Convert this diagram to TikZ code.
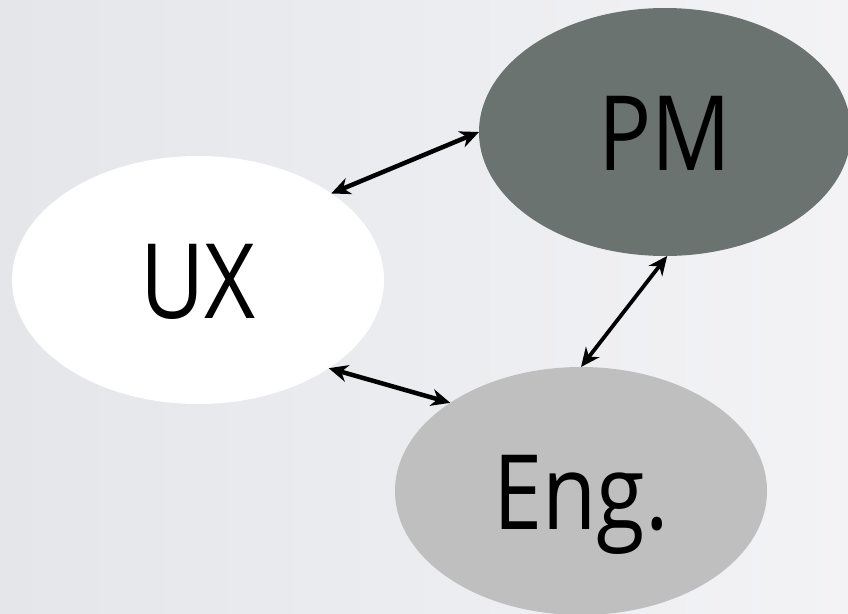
\documentclass[tikz,border=0pt]{standalone}
\usepackage{fontspec}
\setmainfont{Open Sans}[FakeStretch=0.85]
\usepackage{xcolor}
\usepackage{tikz}
\usetikzlibrary{arrows.meta,shapes.geometric}
\definecolor{bgleft}{RGB}{228,230,233}
\definecolor{bgright}{RGB}{243,243,246}
\definecolor{pmgray}{RGB}{107,115,112}
\definecolor{enggray}{RGB}{191,191,191}

\begin{document}
\begin{tikzpicture}[
        x=1pt, y=-1pt,
        role/.style={ellipse, draw=none, fill=#1, outer sep=0pt, inner sep=0pt,
            minimum width=372pt, minimum height=248pt,
            text height=76pt, text depth=0pt, font=\fontsize{104}{104}\selectfont},
        link/.style={{Stealth[length=19pt,width=17pt,inset=6pt]}-{Stealth[length=19pt,width=17pt,inset=6pt]},
            line width=#1, line cap=butt}
    ]
        \useasboundingbox (0,0) rectangle (848,613);
        \shade[left color=bgleft, right color=bgright] (0,0) rectangle (848,613);

        \node[role=white] (ux) at (198,280) {UX};
        \node[role=pmgray] (pm) at (665,132) {PM};
        \node[role=enggray] (eng) at (581,491) {Eng.};

        \draw[link=4.5pt] (ux.33) -- (pm.180);
        \draw[link=3.8pt] (pm.-89) -- (eng.90);
        \draw[link=4.5pt] (ux.-34) -- (eng.146);
    \end{tikzpicture}
\end{document}
